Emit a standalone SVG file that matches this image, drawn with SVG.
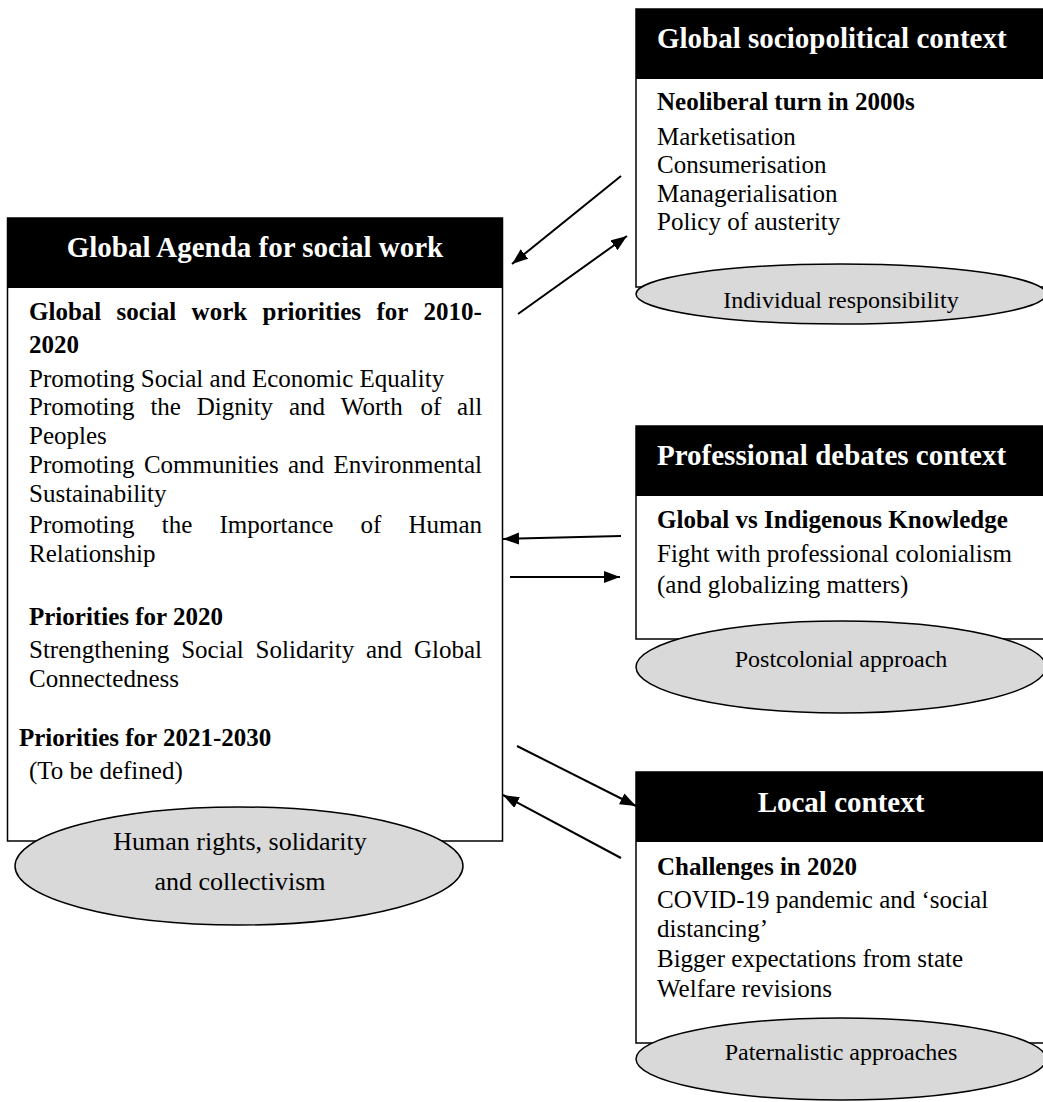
<svg xmlns="http://www.w3.org/2000/svg" width="1043" height="1102" viewBox="0 0 1043 1102">
<style>
.box{fill:#fff;stroke:#000;stroke-width:1.5}
.hdr{fill:#000}
.ht{font-family:"Liberation Serif","Times New Roman",serif;font-weight:bold;font-size:29px;fill:#fff}
.b{font-family:"Liberation Serif","Times New Roman",serif;font-weight:bold;font-size:25px;fill:#000}
.t{font-family:"Liberation Serif","Times New Roman",serif;font-size:25px;fill:#000}
.el{fill:#d9d9d9;stroke:#000;stroke-width:1.5}
.et{font-family:"Liberation Serif","Times New Roman",serif;font-size:24px;fill:#000;text-anchor:middle}
.et2{font-family:"Liberation Serif","Times New Roman",serif;font-size:26px;fill:#000;text-anchor:middle}
.arr{stroke:#000;stroke-width:2;fill:none;marker-end:url(#ah)}
</style>
<defs>
<marker id="ah" markerUnits="userSpaceOnUse" markerWidth="18" markerHeight="14" refX="16" refY="6" orient="auto">
<path d="M0,0 L16,6 L0,12 z" fill="#000"/>
</marker>
</defs>
<rect width="1043" height="1102" fill="#fff"/>

<g id="global-agenda">
<rect class="box" x="7.5" y="218" width="495" height="623"/>
<rect class="hdr" x="7.5" y="218" width="495" height="70"/>
<text class="ht" x="255" y="257" text-anchor="middle">Global Agenda for social work</text>
<text class="b" y="320"><tspan x="29">Global</tspan><tspan x="116.6">social</tspan><tspan x="191.6">work</tspan><tspan x="262.5">priorities</tspan><tspan x="376.4">for</tspan><tspan x="423.6">2010-</tspan></text>
<text class="b" x="29" y="353">2020</text>
<text class="t" x="29" y="387">Promoting Social and Economic Equality</text>
<text class="t" y="415"><tspan x="29">Promoting</tspan><tspan x="150.4">the</tspan><tspan x="196.7">Dignity</tspan><tspan x="288.9">and</tspan><tspan x="340.8">Worth</tspan><tspan x="420.5">of</tspan><tspan x="457.1">all</tspan></text>
<text class="t" x="29" y="444">Peoples</text>
<text class="t" y="473"><tspan x="29">Promoting</tspan><tspan x="143.9">Communities</tspan><tspan x="288">and</tspan><tspan x="333.4">Environmental</tspan></text>
<text class="t" x="29" y="502">Sustainability</text>
<text class="t" y="533"><tspan x="29">Promoting</tspan><tspan x="161.8">the</tspan><tspan x="219.5">Importance</tspan><tspan x="360.5">of</tspan><tspan x="408.4">Human</tspan></text>
<text class="t" x="29" y="562">Relationship</text>
<text class="b" x="29" y="625">Priorities for 2020</text>
<text class="t" y="658"><tspan x="29">Strengthening</tspan><tspan x="181.2">Social</tspan><tspan x="255.6">Solidarity</tspan><tspan x="366">and</tspan><tspan x="414">Global</tspan></text>
<text class="t" x="29" y="687">Connectedness</text>
<text class="b" x="19" y="746">Priorities for 2021-2030</text>
<text class="t" x="29" y="779">(To be defined)</text>
<ellipse class="el" cx="239" cy="866" rx="224" ry="59"/>
<text class="et2" x="240" y="850">Human rights, solidarity</text>
<text class="et2" x="240" y="890">and collectivism</text>
</g>

<g id="sociopolitical">
<rect class="box" x="636" y="9" width="412" height="278"/>
<rect class="hdr" x="636" y="9" width="412" height="70"/>
<text class="ht" x="657" y="48">Global sociopolitical context</text>
<text class="b" x="657" y="110">Neoliberal turn in 2000s</text>
<text class="t" x="657" y="145">Marketisation</text>
<text class="t" x="657" y="173">Consumerisation</text>
<text class="t" x="657" y="202">Managerialisation</text>
<text class="t" x="657" y="230">Policy of austerity</text>
<ellipse class="el" cx="841" cy="294" rx="205" ry="30"/>
<text class="et" x="841" y="308">Individual responsibility</text>
</g>

<g id="professional">
<rect class="box" x="636" y="426" width="412" height="213"/>
<rect class="hdr" x="636" y="426" width="412" height="70"/>
<text class="ht" x="657" y="465">Professional debates context</text>
<text class="b" x="657" y="528">Global vs Indigenous Knowledge</text>
<text class="t" x="657" y="562">Fight with professional colonialism</text>
<text class="t" x="657" y="593">(and globalizing matters)</text>
<ellipse class="el" cx="841" cy="667" rx="205" ry="46"/>
<text class="et" x="841" y="667">Postcolonial approach</text>
</g>

<g id="local">
<rect class="box" x="636" y="772" width="412" height="271"/>
<rect class="hdr" x="636" y="772" width="412" height="70"/>
<text class="ht" x="841" y="812" text-anchor="middle">Local context</text>
<text class="b" x="657" y="875">Challenges in 2020</text>
<text class="t" x="657" y="908">COVID-19 pandemic and ‘social</text>
<text class="t" x="657" y="937">distancing’</text>
<text class="t" x="657" y="967">Bigger expectations from state</text>
<text class="t" x="657" y="997">Welfare revisions</text>
<ellipse class="el" cx="841" cy="1059" rx="205" ry="41"/>
<text class="et" x="841" y="1060">Paternalistic approaches</text>
</g>

<g id="connectors">
<line class="arr" x1="621" y1="176" x2="512" y2="264"/>
<line class="arr" x1="518" y1="314" x2="627" y2="236"/>
<line class="arr" x1="621" y1="536" x2="503" y2="539"/>
<line class="arr" x1="510" y1="577" x2="620" y2="577"/>
<line class="arr" x1="517" y1="746" x2="636" y2="806"/>
<line class="arr" x1="621" y1="858" x2="503" y2="795"/>
</g>
</svg>
